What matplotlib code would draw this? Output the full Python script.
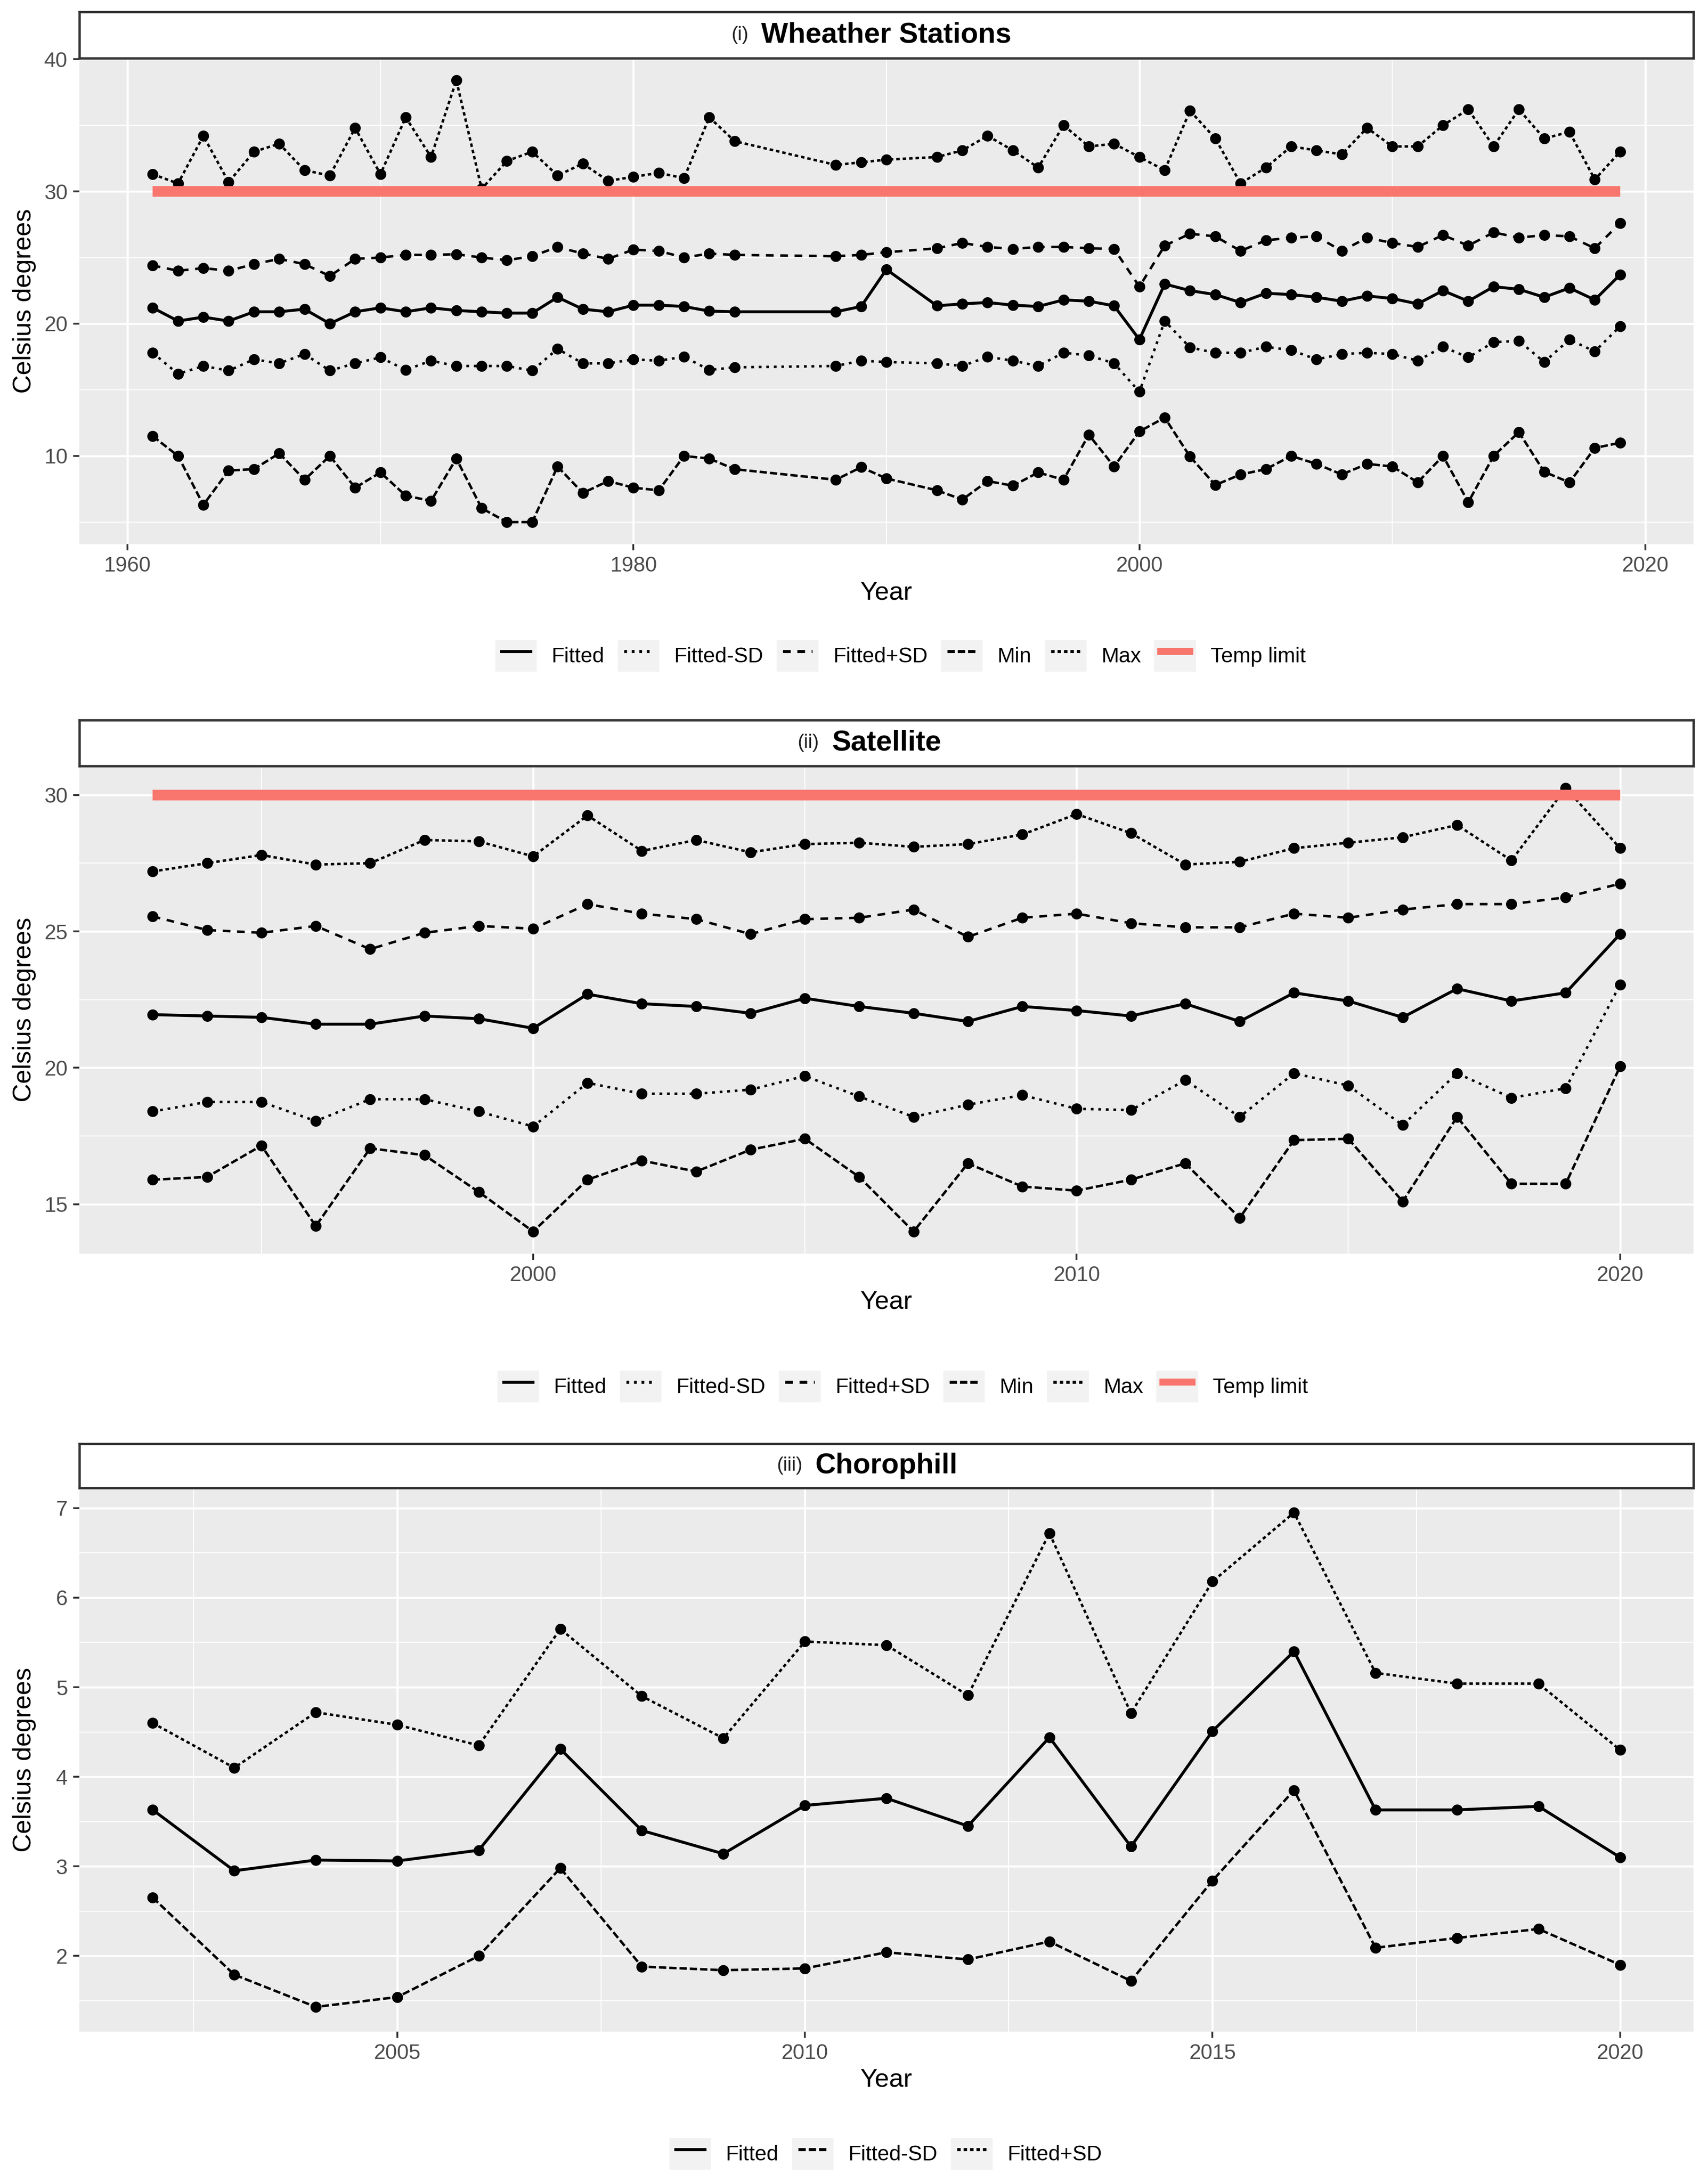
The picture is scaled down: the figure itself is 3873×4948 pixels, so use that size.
import numpy as np
import matplotlib
matplotlib.use('Agg')
import matplotlib.pyplot as plt
from matplotlib.lines import Line2D
from matplotlib.patches import Rectangle
from matplotlib.legend_handler import HandlerLine2D

plt.rcParams['font.family'] = ['Liberation Sans', 'DejaVu Sans']
plt.rcParams['lines.scale_dashes'] = False

# ---------------- data ----------------
temp_limit = 30

# (i) Weather stations
ws_years = list(range(1961, 1985)) + list(range(1988, 1991)) + list(range(1992, 2020))
ws_max = [31.3, 30.6, 34.2, 30.7, 33.0, 33.6, 31.6, 31.2, 34.8, 31.3, 35.6, 32.6, 38.4, 30.2,
          32.3, 33.0, 31.2, 32.1, 30.8, 31.1, 31.4, 31.0, 35.6, 33.8,
          32.0, 32.2, 32.4,
          32.6, 33.1, 34.2, 33.1, 31.8, 35.0, 33.4, 33.6, 32.6, 31.6, 36.1, 34.0, 30.6, 31.8,
          33.4, 33.1, 32.8, 34.8, 33.4, 33.4, 35.0, 36.2, 33.4, 36.2, 34.0, 34.5, 30.9, 33.0]
ws_fit_plus = [24.4, 24.0, 24.2, 24.0, 24.5, 24.9, 24.5, 23.6, 24.9, 25.0, 25.2, 25.2, 25.25, 25.0,
               24.8, 25.1, 25.8, 25.3, 24.9, 25.6, 25.5, 25.0, 25.3, 25.2,
               25.1, 25.2, 25.4,
               25.7, 26.1, 25.8, 25.65, 25.8, 25.8, 25.7, 25.65, 22.8, 25.9, 26.8, 26.6, 25.5, 26.3,
               26.5, 26.6, 25.5, 26.5, 26.1, 25.8, 26.7, 25.9, 26.9, 26.5, 26.7, 26.6, 25.7, 27.6]
ws_fit = [21.2, 20.2, 20.5, 20.2, 20.9, 20.9, 21.1, 20.0, 20.9, 21.2, 20.9, 21.2, 21.0, 20.9,
          20.8, 20.8, 22.0, 21.1, 20.9, 21.4, 21.4, 21.3, 20.95, 20.9,
          20.9, 21.3, 24.1,
          21.35, 21.5, 21.6, 21.4, 21.3, 21.8, 21.7, 21.35, 18.8, 23.0, 22.5, 22.2, 21.6, 22.3,
          22.2, 22.0, 21.7, 22.1, 21.9, 21.5, 22.5, 21.7, 22.8, 22.6, 22.0, 22.7, 21.8, 23.7]
ws_fit_minus = [17.8, 16.2, 16.8, 16.45, 17.3, 17.0, 17.7, 16.45, 17.0, 17.45, 16.5, 17.2, 16.8, 16.8,
                16.8, 16.45, 18.1, 17.0, 17.0, 17.3, 17.2, 17.5, 16.5, 16.7,
                16.8, 17.2, 17.1,
                17.0, 16.8, 17.5, 17.2, 16.8, 17.8, 17.6, 17.0, 14.85, 20.2, 18.2, 17.8, 17.8, 18.25,
                18.0, 17.3, 17.7, 17.8, 17.7, 17.2, 18.25, 17.45, 18.6, 18.7, 17.1, 18.8, 17.9, 19.8]
ws_min = [11.5, 10.0, 6.3, 8.9, 9.0, 10.2, 8.2, 10.0, 7.6, 8.75, 7.0, 6.6, 9.8, 6.05,
          5.0, 5.0, 9.2, 7.2, 8.1, 7.6, 7.4, 10.0, 9.8, 9.0,
          8.2, 9.15, 8.3,
          7.4, 6.7, 8.1, 7.75, 8.75, 8.2, 11.6, 9.2, 11.85, 12.9, 9.95, 7.8, 8.6, 9.0,
          10.0, 9.4, 8.6, 9.4, 9.2, 8.0, 10.0, 6.5, 10.0, 11.8, 8.8, 8.0, 10.6, 11.0]

# (ii) Satellite
sat_years = list(range(1993, 2021))
sat_max = [27.2, 27.5, 27.8, 27.45, 27.5, 28.35, 28.3, 27.75, 29.25, 27.95, 28.35, 27.9, 28.2, 28.25,
           28.1, 28.2, 28.55, 29.3, 28.6, 27.45, 27.55, 28.05, 28.25, 28.45, 28.9, 27.6, 30.25, 28.05]
sat_fit_plus = [25.55, 25.05, 24.95, 25.2, 24.35, 24.95, 25.2, 25.1, 26.0, 25.65, 25.45, 24.9, 25.45, 25.5,
                25.8, 24.8, 25.5, 25.65, 25.3, 25.15, 25.15, 25.65, 25.5, 25.8, 26.0, 26.0, 26.25, 26.75]
sat_fit = [21.95, 21.9, 21.85, 21.6, 21.6, 21.9, 21.8, 21.45, 22.7, 22.35, 22.25, 22.0, 22.55, 22.25,
           22.0, 21.7, 22.25, 22.1, 21.9, 22.35, 21.7, 22.75, 22.45, 21.85, 22.9, 22.45, 22.75, 24.9]
sat_fit_minus = [18.4, 18.75, 18.75, 18.05, 18.85, 18.85, 18.4, 17.85, 19.45, 19.05, 19.05, 19.2, 19.7, 18.95,
                 18.2, 18.65, 19.0, 18.5, 18.45, 19.55, 18.2, 19.8, 19.35, 17.9, 19.8, 18.9, 19.25, 23.05]
sat_min = [15.9, 16.0, 17.15, 14.2, 17.05, 16.8, 15.45, 14.0, 15.9, 16.6, 16.2, 17.0, 17.4, 16.0,
           14.0, 16.5, 15.65, 15.5, 15.9, 16.5, 14.5, 17.35, 17.4, 15.1, 18.2, 15.75, 15.75, 20.05]

# (iii) Chlorophyll
chl_years = list(range(2002, 2021))
chl_fit_plus = [4.6, 4.1, 4.72, 4.58, 4.35, 5.65, 4.9, 4.43, 5.51, 5.47, 4.91, 6.72, 4.71, 6.18,
                6.95, 5.16, 5.04, 5.04, 4.3]
chl_fit = [3.63, 2.95, 3.07, 3.06, 3.18, 4.31, 3.4, 3.14, 3.68, 3.76, 3.45, 4.44, 3.22, 4.51,
           5.4, 3.63, 3.63, 3.67, 3.1]
chl_fit_minus = [2.65, 1.79, 1.43, 1.54, 2.0, 2.98, 1.88, 1.84, 1.86, 2.04, 1.96, 2.16, 1.72, 2.84,
                 3.85, 2.09, 2.2, 2.3, 1.9]

labels_12 = ['Fitted', 'Fitted-SD', 'Fitted+SD', 'Min', 'Max', 'Temp limit']
labels_3 = ['Fitted', 'Fitted-SD', 'Fitted+SD']

# ---------------- styling ----------------
W, H, DPI = 3873, 4948, 300
fig = plt.figure(figsize=(W / DPI, H / DPI), dpi=DPI, facecolor='white')

def fx(px):
    return px / W

def fy(px):
    return 1 - px / H

PANEL_L, PANEL_R = 180, 3840
RED = '#F8766D'
PANEL_BG = '#EBEBEB'
KEY_BG = '#F2F2F2'

LS_SOLID = '-'
LS_DOT = (0, (1.5, 2.6))
LS_DASH = (0, (4.2, 3.6))
LS_MID = (0, (4.0, 1.6))
LS_SHORT = (0, (1.9, 1.6))


class KeyHandler(HandlerLine2D):
    def create_artists(self, legend, orig_handle, xdescent, ydescent, width, height, fontsize, trans):
        bg = Rectangle((-xdescent, -ydescent), width, height, facecolor=KEY_BG,
                       edgecolor='none', transform=trans)
        arts = super().create_artists(legend, orig_handle, xdescent, ydescent, width, height,
                                      fontsize, trans)
        return [bg] + list(arts)


def expand(lo, hi, f=0.05):
    r = hi - lo
    return lo - f * r, hi + f * r


def make_panel(strip_top, top, bottom, prefix, title, years, series, styles,
               xmaj, xmin, ymaj, ymin, temp, legend_labels, legend_cx, legend_cy):
    ax = fig.add_axes([fx(PANEL_L), fy(bottom), fx(PANEL_R - PANEL_L), (bottom - top) / H])
    ax.set_facecolor(PANEL_BG)
    for s in ax.spines.values():
        s.set_visible(False)
    ax.set_xlim(*expand(min(years), max(years)))
    allv = np.concatenate([np.asarray(v) for v in series])
    ax.set_ylim(*expand(allv.min(), allv.max()))
    ax.set_xticks(xmaj)
    ax.set_xticks(xmin, minor=True)
    ax.set_yticks(ymaj)
    ax.set_yticks(ymin, minor=True)
    ax.grid(which='major', color='white', lw=1.1)
    ax.grid(which='minor', color='white', lw=0.55)
    ax.set_axisbelow(True)
    ax.tick_params(which='major', length=3.4, width=1.0, color='#333333', labelcolor='#4D4D4D',
                   labelsize=11.5, pad=3.0)
    ax.tick_params(which='minor', length=0)
    for vals, st in zip(series, styles):
        ax.plot(years, vals, color='black', lw=st[1], ls=st[0], marker='o', ms=6.0,
                mfc='black', mec='black', mew=0, zorder=3, solid_capstyle='butt',
                dash_capstyle='butt')
    if temp is not None:
        ax.plot([min(years), max(years)], [temp, temp], color=RED, lw=5.8,
                solid_capstyle='butt', zorder=4)
    ax.set_xlabel('Year', fontsize=14, va='center', color='black')
    ax.xaxis.set_label_coords(0.5, -110 / (bottom - top))
    ax.set_ylabel('Celsius degrees', fontsize=14, va='center', color='black')
    ax.yaxis.set_label_coords((55 - PANEL_L) / (PANEL_R - PANEL_L), 0.5)

    # strip
    sax = fig.add_axes([fx(PANEL_L), fy(top), fx(PANEL_R - PANEL_L), (top - strip_top) / H])
    sax.set_facecolor('white')
    sax.set_xticks([])
    sax.set_yticks([])
    for s in sax.spines.values():
        s.set_color('#333333')
        s.set_linewidth(1.3)
    t = sax.text(0.5, 0.5, title, fontsize=15.5, fontweight='bold', ha='center', va='center',
                 transform=sax.transAxes)
    sax.annotate(prefix, xy=(0, 0.5), xycoords=t, xytext=(-7, 0), textcoords='offset points',
                 ha='right', va='center', fontsize=10.5, color='#222222')

    # legend
    handles = []
    for st in styles:
        handles.append(Line2D([], [], color='black', lw=1.7, ls=st[0]))
    if temp is not None:
        handles.append(Line2D([], [], color=RED, lw=3.8))
    fig.legend(handles, legend_labels, loc='center', bbox_to_anchor=(fx(legend_cx), fy(legend_cy)),
               bbox_transform=fig.transFigure, ncol=len(handles), frameon=False, fontsize=11.5,
               handlelength=1.98, handleheight=1.94, handletextpad=0.69, columnspacing=0.63,
               borderaxespad=0, borderpad=0, handler_map={Line2D: KeyHandler(numpoints=2)})
    return ax


styles_12 = [(LS_SOLID, 1.6), (LS_DOT, 1.35), (LS_DASH, 1.35), (LS_MID, 1.35), (LS_SHORT, 1.35)]
styles_3 = [(LS_SOLID, 1.6), (LS_MID, 1.35), (LS_SHORT, 1.35)]

make_panel(27, 132, 1234, '(i)', 'Wheather Stations', ws_years,
           [ws_fit, ws_fit_minus, ws_fit_plus, ws_min, ws_max], styles_12,
           [1960, 1980, 2000, 2020], [1970, 1990, 2010], [10, 20, 30, 40], [5, 15, 25, 35],
           temp_limit, labels_12, 2042, 1487)

make_panel(1633, 1737, 2843, '(ii)', 'Satellite', sat_years,
           [sat_fit, sat_fit_minus, sat_fit_plus, sat_min, sat_max], styles_12,
           [2000, 2010, 2020], [1995, 2005, 2015], [15, 20, 25, 30], [17.5, 22.5, 27.5],
           temp_limit, labels_12, 2047, 3144)

make_panel(3274, 3374, 4607, '(iii)', 'Chorophill', chl_years,
           [chl_fit, chl_fit_minus, chl_fit_plus], styles_3,
           [2005, 2010, 2015, 2020], [2002.5, 2007.5, 2012.5, 2017.5],
           [2, 3, 4, 5, 6, 7], [1.5, 2.5, 3.5, 4.5, 5.5, 6.5],
           None, labels_3, 2008, 4884)

fig.savefig('out.png', dpi=DPI, facecolor='white')
